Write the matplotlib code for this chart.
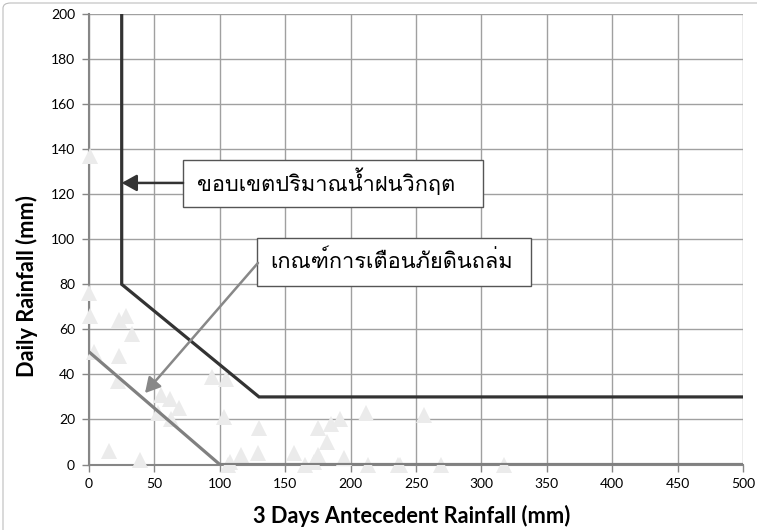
import matplotlib
matplotlib.use("Agg")
import matplotlib.pyplot as plt
from matplotlib import font_manager
from matplotlib.ft2font import FT2Font
from matplotlib.patches import Rectangle, FancyBboxPatch

# observed events: 3-day antecedent rainfall (mm) vs daily rainfall (mm)
event_x = [1, 0, 1, 4, 23, 28, 33, 23, 22, 15, 39, 55, 62, 69, 53, 63, 94, 105,
           103, 106, 108, 116, 129, 130, 157, 165, 172, 175, 175, 182, 185, 192,
           195, 212, 213, 236, 238, 256, 269, 317]
event_y = [137, 76, 66, 50, 64, 66, 58, 48, 37, 6, 2, 31, 29, 25, 23, 20, 39, 38,
           21, 0, 1, 4, 5, 16, 5, 0, 1, 4, 16, 10, 18, 20,
           3, 23, 0, 0, 0, 22, 0, 0]

# critical rainfall threshold
crit_x = [25, 25, 130, 500]
crit_y = [200, 80, 30, 30]

# landslide warning criterion
warn_x = [0, 100, 500]
warn_y = [50, 0, 0]

label_crit = "ขอบเขตปริมาณน้ำฝนวิกฤต"
label_warn = "เกณฑ์การเตือนภัยดินถล่ม"


def find_thai_font():
    for f in font_manager.fontManager.ttflist:
        try:
            if 0x0E01 in FT2Font(f.fname).get_charmap():
                return f.name
        except Exception:
            pass
    return "DejaVu Sans"


thai = find_thai_font()
plt.rcParams["font.family"] = ["Lato", "DejaVu Sans"]

fig = plt.figure(figsize=(7.57, 5.30), dpi=100)
fig.patches.append(FancyBboxPatch((3 / 757, -0.02), 1.2, 1.0 - 3 / 530 + 0.02,
                                  boxstyle="round,pad=0,rounding_size=0.01",
                                  transform=fig.transFigure, fill=False,
                                  edgecolor="#bdbdbd", linewidth=0.8))
ax = fig.add_axes([89 / 757, 1 - 464.5 / 530, 654 / 757, 450.5 / 530])

ax.plot(event_x, event_y, linestyle="none", marker="^", markersize=11.5,
        color="#ebebeb", markeredgewidth=0, zorder=3, clip_on=False)
ax.plot(warn_x, warn_y, color="#808080", linewidth=2.3, zorder=4,
        solid_joinstyle="miter")
ax.plot(crit_x, crit_y, color="#333333", linewidth=2.3, zorder=5,
        solid_joinstyle="miter")

ax.set_xlim(0, 500)
ax.set_ylim(0, 200)
ax.set_xticks(range(0, 501, 50))
ax.set_yticks(range(0, 201, 20))
ax.grid(True, color="#a0a0a0", linewidth=1.0, zorder=1)
ax.set_axisbelow(True)
for s in ["top", "right"]:
    ax.spines[s].set_visible(False)
for s in ["left", "bottom"]:
    ax.spines[s].set_color("#868686")
    ax.spines[s].set_linewidth(1.5)
ax.tick_params(direction="out", length=5, width=1, color="#868686",
               labelsize=10, pad=5, labelcolor="#000000")

ax.set_xlabel("3 Days Antecedent Rainfall (mm)", fontsize=15.7, fontweight="bold")
ax.set_ylabel("Daily Rainfall (mm)", fontsize=15.7, fontweight="bold")
ax.xaxis.set_label_coords(0.493, -0.09)
ax.yaxis.set_label_coords(-0.078, 0.395)

# callout boxes
ax.add_patch(Rectangle((71.9, 114.3), 229.4, 20.9, facecolor="white",
                       edgecolor="#555555", linewidth=1.0, zorder=6))
ax.text(82.6, 121.5, label_crit, family=[thai, "DejaVu Sans"],
        fontsize=15.7, ha="left", va="baseline", zorder=7)
ax.annotate("", xy=(25, 125), xytext=(71.9, 125),
            arrowprops=dict(arrowstyle="-|>,head_length=0.9,head_width=0.5",
                            color="#333333", linewidth=1.8, shrinkA=0, shrinkB=0),
            zorder=6)

ax.add_patch(Rectangle((128.4, 79.3), 209.5, 21.2, facecolor="white",
                       edgecolor="#555555", linewidth=1.0, zorder=6))
ax.text(138.4, 87.1, label_warn, family=[thai, "DejaVu Sans"],
        fontsize=15.7, ha="left", va="baseline", zorder=7)
ax.annotate("", xy=(42.8, 31.7), xytext=(129.2, 89.5),
            arrowprops=dict(arrowstyle="-|>,head_length=0.9,head_width=0.5",
                            color="#888888", linewidth=1.8, shrinkA=0, shrinkB=0),
            zorder=6)

fig.savefig("out.png", dpi=100)
